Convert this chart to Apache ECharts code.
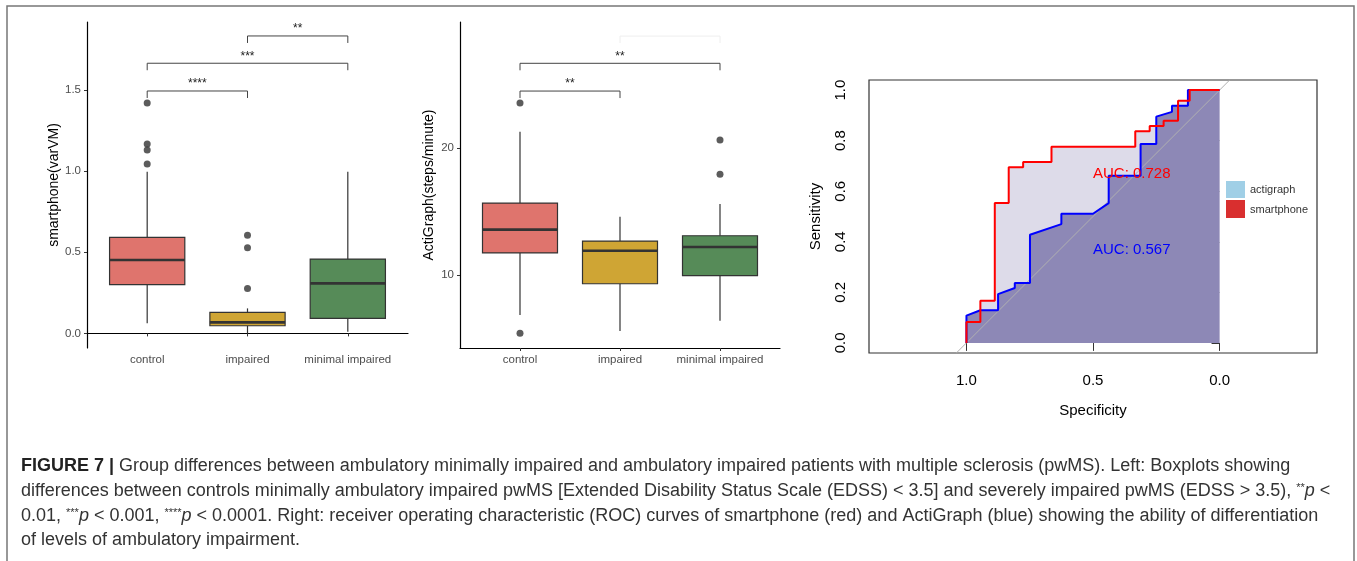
<!DOCTYPE html>
<html>
<head>
<meta charset="utf-8">
<script src="https://cdn.jsdelivr.net/npm/echarts@6/dist/echarts.min.js"></script>
<style>
html, body { margin: 0; padding: 0; background: #fff; }
#chart { width: 1357px; height: 561px; }
</style>
</head>
<body>
<div id="chart"></div>
<script>
// groups on the two boxplots
var groups = ['control', 'impaired', 'minimal impaired'];

// box stats: [lower whisker, Q1, median, Q3, upper whisker]
var phoneBox = [
	[0.062, 0.300, 0.452, 0.592, 0.996],
	[0.000, 0.047, 0.068, 0.129, 0.154],
	[0.010, 0.092, 0.308, 0.458, 0.996]
];
var phoneOutliers = [[1, 1.419], [1, 1.166], [1, 1.129], [1, 1.043], [2, 0.604], [2, 0.527], [2, 0.277]];
var phoneBrackets = [[1, 2, 1.493], [1, 3, 1.664], [2, 3, 1.832]];
var phoneStars = ['****', '***', '**'];

var actiBox = [
	[6.84, 11.74, 13.58, 15.68, 21.31],
	[5.58, 9.31, 11.92, 12.68, 14.60],
	[6.40, 9.95, 12.21, 13.10, 15.60]
];
var actiOutliers = [[1, 23.58], [1, 5.40], [3, 20.66], [3, 17.95]];
var actiBrackets = [[1, 2, 24.52], [1, 3, 26.71], [2, 3, 28.86]];
var actiStars = ['**', '**', ''];

var phoneTicks = [0, 0.5, 1.0, 1.5];
var actiTicks = [10, 20];

// ROC curves (specificity, sensitivity)
var smartSpec = [1, 1, 0.945, 0.945, 0.888, 0.888, 0.833, 0.833, 0.776, 0.776, 0.664, 0.664, 0.333, 0.333, 0.276, 0.276, 0.221, 0.221, 0.164, 0.164, 0.118, 0.118, 0];
var smartSens = [0, 0.083, 0.083, 0.167, 0.167, 0.553, 0.553, 0.695, 0.695, 0.716, 0.716, 0.776, 0.776, 0.837, 0.837, 0.858, 0.858, 0.879, 0.879, 0.958, 0.958, 1, 1];
var actiSpec = [1, 1, 0.945, 0.875, 0.875, 0.809, 0.809, 0.749, 0.749, 0.625, 0.625, 0.5, 0.438, 0.438, 0.312, 0.312, 0.25, 0.25, 0.188, 0.188, 0.125, 0.125, 0];
var actiSens = [0, 0.108, 0.129, 0.129, 0.193, 0.217, 0.237, 0.237, 0.428, 0.470, 0.511, 0.511, 0.553, 0.661, 0.661, 0.787, 0.787, 0.895, 0.914, 0.938, 0.938, 1, 1];
var aucLabels = ['AUC: 0.728', 'AUC: 0.567'];
var aucPos = [[0.5, 0.668], [0.5, 0.368]];
var rocXTicks = [1.0, 0.5, 0.0];
var rocYTicks = [0, 0.2, 0.4, 0.6, 0.8, 1.0];

var boxColors = ['#df746d', '#cfa534', '#568b58'];
var ink = '#333333';

function zip(a, b) {
	return a.map(function (v, i) { return [v, b[i]]; });
}

function boxItem(params, api) {
	var x = api.value(0);
	var lo = api.coord([x, api.value(1)]);
	var q1 = api.coord([x, api.value(2)]);
	var med = api.coord([x, api.value(3)]);
	var q3 = api.coord([x, api.value(4)]);
	var hi = api.coord([x, api.value(5)]);
	var left = api.coord([x - 0.375, api.value(3)])[0];
	var right = api.coord([x + 0.375, api.value(3)])[0];
	return {
		type: 'group',
		children: [
			{ type: 'line', shape: { x1: lo[0], y1: lo[1], x2: q1[0], y2: q1[1] }, style: { stroke: ink, lineWidth: 1.2 } },
			{ type: 'line', shape: { x1: q3[0], y1: q3[1], x2: hi[0], y2: hi[1] }, style: { stroke: ink, lineWidth: 1.2 } },
			{ type: 'rect', shape: { x: left, y: q3[1], width: right - left, height: q1[1] - q3[1] },
				style: { fill: boxColors[params.dataIndex], stroke: ink, lineWidth: 1.2 } },
			{ type: 'line', shape: { x1: left, y1: med[1], x2: right, y2: med[1] }, style: { stroke: ink, lineWidth: 2.6 } }
		]
	};
}

function bracketItem(stars) {
	return function (params, api) {
		var a = api.coord([api.value(0), api.value(2)]);
		var b = api.coord([api.value(1), api.value(2)]);
		var label = stars[params.dataIndex];
		var col = label ? '#444' : '#eeeeee';
		return {
			type: 'group',
			children: [
				{ type: 'polyline', shape: { points: [[a[0], a[1] + 7], a, b, [b[0], b[1] + 7]] },
					style: { stroke: col, lineWidth: 1, fill: null } },
				{ type: 'text', x: (a[0] + b[0]) / 2, y: a[1] - 1,
					style: { text: label, fill: '#222', font: '12px "Liberation Sans", Arial, sans-serif',
						align: 'center', verticalAlign: 'bottom' } }
			]
		};
	};
}

function textItem(labels, colors) {
	return function (params, api) {
		var p = api.coord([api.value(0), api.value(1)]);
		return {
			type: 'text', x: p[0], y: p[1],
			style: { text: labels[params.dataIndex], fill: colors[params.dataIndex],
				font: '15px "Liberation Sans", Arial, sans-serif', align: 'left', verticalAlign: 'middle' }
		};
	};
}

var axisFont = '"Liberation Sans", Arial, sans-serif';

function boxXAxis(gridIndex) {
	return {
		type: 'value', gridIndex: gridIndex, min: 0.4, max: 3.6,
		splitLine: { show: false },
		axisLine: { show: true, lineStyle: { color: '#000', width: 1.2 } },
		axisTick: { show: true, length: 3, customValues: [1, 2, 3], lineStyle: { color: ink } },
		axisLabel: { customValues: [1, 2, 3], margin: 6, color: '#4d4d4d', fontSize: 11.5, fontFamily: axisFont,
			formatter: function (v) { return groups[Math.round(v) - 1]; } }
	};
}

function boxYAxis(gridIndex, min, max, ticks, name, digits) {
	return {
		type: 'value', gridIndex: gridIndex, min: min, max: max,
		name: name, nameLocation: 'middle', nameGap: 24,
		nameTextStyle: { color: '#000', fontSize: 14, fontFamily: axisFont },
		splitLine: { show: false },
		axisLine: { show: true, lineStyle: { color: '#000', width: 1.2 } },
		axisTick: { show: true, length: 3, customValues: ticks, lineStyle: { color: ink } },
		axisLabel: { customValues: ticks, margin: 6, color: '#4d4d4d', fontSize: 11.5, fontFamily: axisFont,
			formatter: function (v) { return v.toFixed(digits); } }
	};
}

var capSize = 18;
var captionRich = {
	b: { fontWeight: 'bold', fontSize: capSize, fill: '#222', fontFamily: axisFont },
	i: { fontStyle: 'italic', fontSize: capSize, fontFamily: axisFont },
	sup: { fontSize: 11, verticalAlign: 'top', fontFamily: axisFont }
};
var captionLines = [
	'{b|FIGURE 7 |} Group differences between ambulatory minimally impaired and ambulatory impaired patients with multiple sclerosis (pwMS). Left: Boxplots showing',
	'differences between controls minimally ambulatory impaired pwMS [Extended Disability Status Scale (EDSS) < 3.5] and severely impaired pwMS (EDSS > 3.5), {sup|**}{i|p} <',
	'0.01, {sup|***}{i|p} < 0.001, {sup|****}{i|p} < 0.0001. Right: receiver operating characteristic (ROC) curves of smartphone (red) and ActiGraph (blue) showing the ability of differentiation',
	'of levels of ambulatory impairment.'
];
var captionY = [466, 491, 516, 540];

var graphics = [
	{ type: 'rect', shape: { x: 7, y: 6, width: 1347, height: 570 }, style: { fill: null, stroke: '#777', lineWidth: 1.5 }, silent: true },
	{ type: 'rect', shape: { x: 1226, y: 181, width: 19, height: 17 }, style: { fill: '#a0cfe6' } },
	{ type: 'rect', shape: { x: 1226, y: 200, width: 19, height: 18 }, style: { fill: '#d92f2f' } },
	{ type: 'text', x: 1250, y: 190, style: { text: 'actigraph', fill: '#333', font: '11px ' + axisFont, verticalAlign: 'middle' } },
	{ type: 'text', x: 1250, y: 210, style: { text: 'smartphone', fill: '#333', font: '11px ' + axisFont, verticalAlign: 'middle' } }
];
captionLines.forEach(function (t, i) {
	graphics.push({ type: 'text', x: 21, y: captionY[i],
		style: { text: t, rich: captionRich, fill: '#333', font: capSize + 'px ' + axisFont, verticalAlign: 'middle' } });
});

var chart = echarts.init(document.getElementById('chart'), null, { renderer: 'canvas' });
var option = {
	animation: false,
	backgroundColor: '#fff',
	grid: [
		{ left: 87, top: 22, width: 321, height: 326 },
		{ left: 460, top: 22, width: 320, height: 326 },
		{ left: 869, top: 80, width: 448, height: 273, show: true, borderColor: '#333', borderWidth: 1.2 }
	],
	xAxis: [
		boxXAxis(0),
		boxXAxis(1),
		{
			type: 'value', gridIndex: 2, min: -0.385, max: 1.385, inverse: true,
			name: 'Specificity', nameLocation: 'middle', nameGap: 50,
			nameTextStyle: { color: '#000', fontSize: 15, fontFamily: axisFont },
			splitLine: { show: false },
			axisLine: { show: false },
			axisTick: { show: true, length: 8, customValues: rocXTicks, lineStyle: { color: ink } },
			axisLabel: { customValues: rocXTicks, margin: 20, color: '#000', fontSize: 15, fontFamily: axisFont,
				formatter: function (v) { return v.toFixed(1); } }
		}
	],
	yAxis: [
		boxYAxis(0, -0.09, 1.918, phoneTicks, 'smartphone(varVM)', 1),
		boxYAxis(1, 4.24, 29.97, actiTicks, 'ActiGraph(steps/minute)', 0),
		{
			type: 'value', gridIndex: 2, min: -0.04, max: 1.04,
			name: 'Sensitivity', nameLocation: 'middle', nameGap: 46,
			nameTextStyle: { color: '#000', fontSize: 15, fontFamily: axisFont },
			splitLine: { show: false },
			axisLine: { show: false },
			axisTick: { show: true, length: 8, customValues: rocYTicks, lineStyle: { color: ink } },
			axisLabel: { customValues: rocYTicks, margin: 21, rotate: 90, color: '#000', fontSize: 15, fontFamily: axisFont,
				formatter: function (v) { return v.toFixed(1); } }
		}
	],
	series: [
		{ type: 'custom', xAxisIndex: 0, yAxisIndex: 0, renderItem: boxItem,
			data: phoneBox.map(function (b, i) { return [i + 1].concat(b); }) },
		{ type: 'scatter', xAxisIndex: 0, yAxisIndex: 0, data: phoneOutliers, symbolSize: 7,
			itemStyle: { color: ink } },
		{ type: 'custom', xAxisIndex: 0, yAxisIndex: 0, renderItem: bracketItem(phoneStars), data: phoneBrackets },

		{ type: 'custom', xAxisIndex: 1, yAxisIndex: 1, renderItem: boxItem,
			data: actiBox.map(function (b, i) { return [i + 1].concat(b); }) },
		{ type: 'scatter', xAxisIndex: 1, yAxisIndex: 1, data: actiOutliers, symbolSize: 7,
			itemStyle: { color: ink } },
		{ type: 'custom', xAxisIndex: 1, yAxisIndex: 1, renderItem: bracketItem(actiStars), data: actiBrackets },

		// ROC: smartphone area, actigraph area, chance line, curves
		{ name: 'smartphone', type: 'line', xAxisIndex: 2, yAxisIndex: 2, data: zip(smartSpec, smartSens),
			symbol: 'none', lineStyle: { width: 0 }, areaStyle: { color: '#dddbe9', opacity: 1 } },
		{ name: 'actigraph', type: 'line', xAxisIndex: 2, yAxisIndex: 2, data: zip(actiSpec, actiSens),
			symbol: 'none', lineStyle: { width: 0 }, areaStyle: { color: '#8d88b6', opacity: 1 } },
		{ type: 'line', xAxisIndex: 2, yAxisIndex: 2, data: [[1.04, -0.04], [-0.04, 1.04]],
			symbol: 'none', lineStyle: { color: '#b0b0b0', width: 1 } },
		{ type: 'line', xAxisIndex: 2, yAxisIndex: 2, data: zip(actiSpec, actiSens),
			symbol: 'none', lineStyle: { color: '#0000ff', width: 2 } },
		{ type: 'line', xAxisIndex: 2, yAxisIndex: 2, data: zip(smartSpec, smartSens),
			symbol: 'none', lineStyle: { color: '#ff0000', width: 2 } },
		{ type: 'custom', xAxisIndex: 2, yAxisIndex: 2, renderItem: textItem(aucLabels, ['#ff0000', '#0000ff']),
			data: aucPos, z: 5 }
	],
	graphic: graphics
};
chart.setOption(option);
</script>
</body>
</html>
